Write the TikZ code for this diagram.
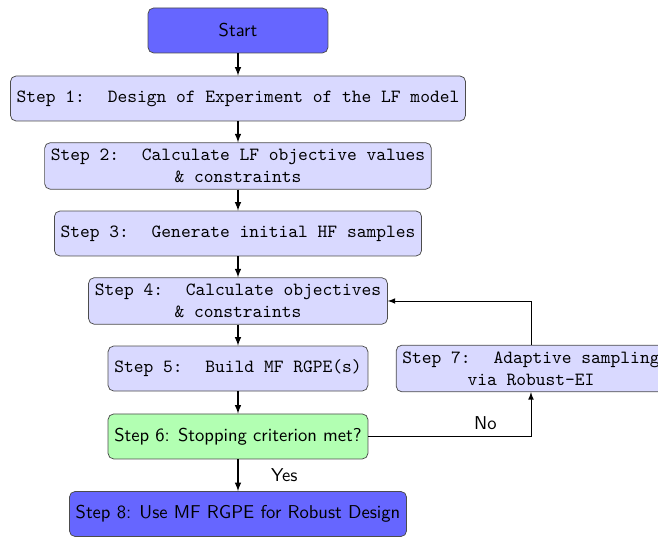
\documentclass[tikz,border=0pt]{standalone}
\begin{document}
\begin{tikzpicture}[>=latex,
	every node/.style={rounded corners=3pt,draw=black!70,minimum height=0.85cm,font=\ttfamily},
	termnode/.style={fill=blue!60,font=\sffamily,minimum width=3.4cm},
	stepnode/.style={fill=blue!15,align=center},
	checknode/.style={fill=green!30,font=\sffamily},
	lbl/.style={draw=none,fill=none,font=\sffamily,minimum height=0pt}]

			\useasboundingbox (-4.497,0.576) rectangle (7.936,-9.570);

			%main column
			\node [termnode] (s0) at (0,0) {Start};
			\node [stepnode] (s1) at (0,-1.285) {Step 1:~ Design of Experiment of the LF model};
			\node [stepnode] (s2) at (0,-2.560) {Step 2:~ Calculate LF objective values\\ \& constraints};
			\node [stepnode] (s3) at (0,-3.836) {Step 3:~ Generate initial HF samples};
			\node [stepnode] (s4) at (0,-5.111) {Step 4:~ Calculate objectives\\ \& constraints};
			\node [stepnode] (s5) at (0,-6.387) {Step 5:~ Build MF RGPE(s)};
			\node [checknode] (s6) at (0,-7.671) {Step 6: Stopping criterion met?};
			\node [termnode] (s8) at (0,-9.136) {Step 8: Use MF RGPE for Robust Design};

			%loop node
			\node [stepnode] (s7) at (5.536,-6.387) {Step 7:~ Adaptive sampling\\ via Robust-EI};

			%edges
			\draw[->,semithick] (s0) -- (s1);
			\draw[->,semithick] (s1) -- (s2);
			\draw[->,semithick] (s2) -- (s3);
			\draw[->,semithick] (s3) -- (s4);
			\draw[->,semithick] (s4) -- (s5);
			\draw[->,semithick] (s5) -- (s6);
			\draw[->,semithick] (s6) -- node[lbl, right, xshift=0.5cm] {Yes} (s8);
			\draw[->] (s6) -| node[lbl, pos=0.36, above] {No} (s7);
			\draw[->] (s7) |- (s4);
		\end{tikzpicture}
\end{document}
